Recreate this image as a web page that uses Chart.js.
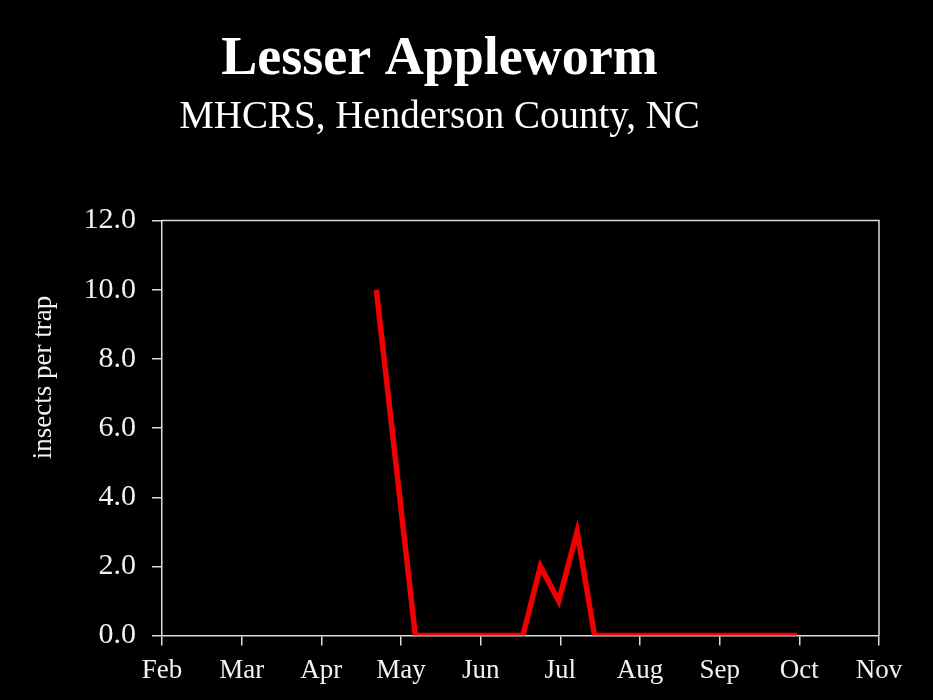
<!DOCTYPE html>
<html>
<head>
<meta charset="utf-8">
<script src="https://cdn.jsdelivr.net/npm/chart.js@4"></script>
<style>
  html, body { margin: 0; padding: 0; background: #000; }
  #wrap { width: 933px; height: 700px; }
</style>
</head>
<body>
<div id="wrap"><canvas id="chart" width="933" height="700"></canvas></div>
<script>
// month labels on the x axis (tick 0 = Feb 1)
const monthLabels = ["Feb", "Mar", "Apr", "May", "Jun", "Jul", "Aug", "Sep", "Oct", "Nov"];
// sample dates, in months after Feb 1 (weekly trap checks)
const sampleMonths = [2.69, 3.18, 3.40, 3.63, 3.85, 4.08, 4.30, 4.53, 4.75, 4.98, 5.21, 5.43,
  5.66, 5.89, 6.12, 6.35, 6.58, 6.81, 7.04, 7.27, 7.50, 7.73, 7.97];
// insects per trap
const insectCounts = [10, 0, 0, 0, 0, 0, 0, 0, 2, 1, 3, 0,
  0, 0, 0, 0, 0, 0, 0, 0, 0, 0, 0];
const yTicks = [0, 2, 4, 6, 8, 10, 12];
const yTitle = "insects per trap";

const serif = "'Liberation Serif', 'DejaVu Serif', serif";
const axisColor = "#dcdcdc";
const textColor = "#f2f2f2";

// top/right edges of the plot frame + the y axis title (sits above centre in the original)
const frame = {
  id: "frame",
  afterDraw(chart) {
    const { ctx, chartArea: a } = chart;
    ctx.save();
    ctx.strokeStyle = axisColor;
    ctx.lineWidth = 1.5;
    ctx.beginPath();
    ctx.moveTo(a.left, a.top);
    ctx.lineTo(a.right, a.top);
    ctx.lineTo(a.right, a.bottom);
    ctx.stroke();

    ctx.translate(44, a.top + (a.bottom - a.top) * 0.378);
    ctx.rotate(-Math.PI / 2);
    ctx.fillStyle = textColor;
    ctx.font = "27px " + serif;
    ctx.textAlign = "center";
    ctx.textBaseline = "middle";
    ctx.fillText(yTitle, 0, 0);
    ctx.restore();
  },
};

function drawChart() {
  const ctx = document.getElementById("chart").getContext("2d");
  new Chart(ctx, {
    type: "line",
    data: {
      datasets: [
        {
          label: "Lesser Appleworm",
          data: sampleMonths.map((m, i) => ({ x: m, y: insectCounts[i] })),
          borderColor: "#f00000",
          borderWidth: 5.5,
          borderJoinStyle: "miter",
          pointRadius: 0,
          tension: 0,
          fill: false,
        },
      ],
    },
    options: {
      responsive: false,
      animation: false,
      layout: { padding: { left: 0, right: 54, top: 28, bottom: 4 } },
      plugins: {
        legend: { display: false },
        tooltip: { enabled: false },
        title: {
          display: true,
          text: "Lesser Appleworm",
          color: "#ffffff",
          font: { family: serif, size: 54, weight: "bold" },
          padding: { top: 0, bottom: 2 },
        },
        subtitle: {
          display: true,
          text: "MHCRS, Henderson County, NC",
          color: "#ffffff",
          font: { family: serif, size: 39 },
          padding: { top: 0, bottom: 79 },
        },
      },
      scales: {
        x: {
          type: "linear",
          min: 0,
          max: monthLabels.length - 1,
          grid: { drawOnChartArea: false, color: axisColor, tickLength: 10, lineWidth: 1.5 },
          border: { color: axisColor, width: 1.5 },
          ticks: {
            stepSize: 1,
            color: textColor,
            font: { family: serif, size: 27 },
            padding: 9,
            maxRotation: 0,
            callback: (v) => monthLabels[v],
          },
        },
        y: {
          min: yTicks[0],
          max: yTicks[yTicks.length - 1],
          grid: { drawOnChartArea: false, color: axisColor, tickLength: 10, lineWidth: 1.5 },
          border: { color: axisColor, width: 1.5 },
          afterFit: (scale) => {
            scale.width = 162;
          },
          ticks: {
            stepSize: 2,
            color: textColor,
            font: { family: serif, size: 30 },
            padding: 16,
            callback: (v) => v.toFixed(1),
          },
        },
      },
    },
    plugins: [frame],
  });
}

drawChart();
</script>
</body>
</html>
